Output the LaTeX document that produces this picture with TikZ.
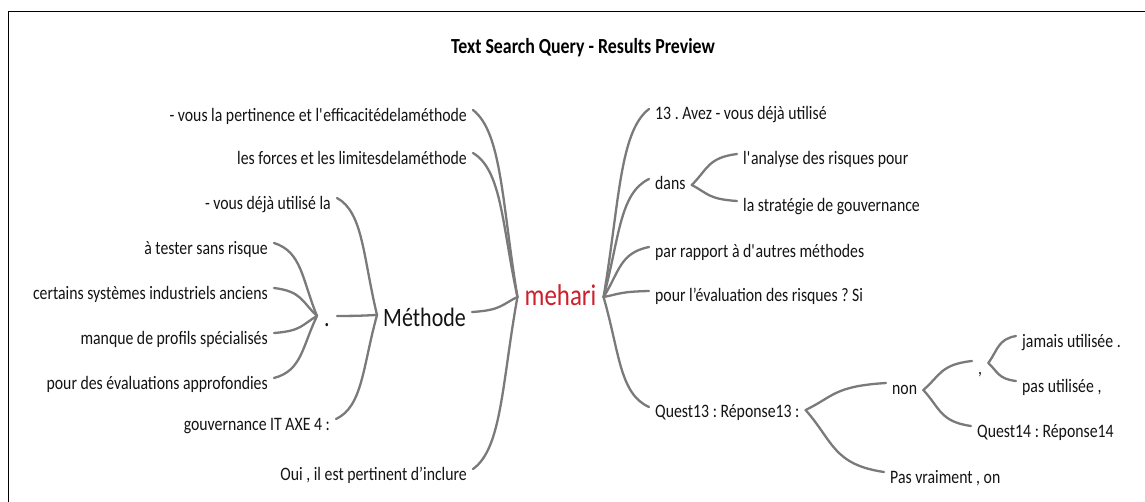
\documentclass[tikz,border=0pt]{standalone}
\usepackage{fontspec}
\setmainfont{Carlito}[FakeStretch=0.83]
\usetikzlibrary{calc}
\frenchspacing

\definecolor{inkgray}{RGB}{20,20,20}
\definecolor{branchgray}{RGB}{122,122,122}
\definecolor{rootred}{RGB}{205,32,44}

\tikzset{
  lbl/.style={font=\fontsize{19}{22}\selectfont, text=inkgray,
    inner xsep=6pt, inner ysep=0pt, text height=13.5pt, text depth=4.5pt},
  big/.style={font=\fontsize{26.5}{30}\selectfont, text=inkgray,
    inner xsep=6pt, inner ysep=0pt, text height=19pt, text depth=6.5pt},
  rootnode/.style={font=\fontsize{30}{34}\selectfont, text=rootred,
    inner xsep=7pt, inner ysep=0pt, text height=22pt, text depth=7.5pt},
  branch/.style={draw=branchgray, line width=2.3pt, line cap=round},
  frameline/.style={draw=black, line width=1.6pt}
}

% curved mind-map branch from a parent point (#1) to a child end (#2)
\newcommand\branch[2]{%
  \draw[branch] let \p1=(#1), \p2=(#2) in
    (\p1) .. controls (\x1+0.35*\x2-0.35*\x1, \y1+0.5*\y2-0.5*\y1)
             and (\x2+0.65*\x1-0.65*\x2, \y2+0.12*\y1-0.12*\y2) .. (\p2);}
\newcommand\sq{\textquotesingle}

\begin{document}
\begin{tikzpicture}[x=1pt,y=-1pt]
\useasboundingbox (0,0) rectangle (1145,502);
\fill[white] (0,0) rectangle (1145,502);

% frame on the top and left edges
\draw[frameline] (8.5,502) -- (8.5,11.5) -- (1145,11.5);

% title
\node[font=\bfseries\fontsize{21.5}{24}\selectfont, text=black] (title) at (583,48)
  {Text Search Query - Results Preview};

% root
\node[rootnode] (root) at (560.5,298) {mehari};

% left side of the root
\node[lbl, anchor=east] (l1) at (473,117) {- vous la pertinence et l\sq efficacitédelaméthode};
\node[lbl, anchor=east] (l2) at (473,160) {les forces et les limitesdelaméthode};
\node[big, anchor=west] (meth) at (377,320) {Méthode};
\node[lbl, anchor=east] (l4) at (473,476) {Oui , il est pertinent d’inclure};

\node[lbl, anchor=east] (m1) at (337,205) {- vous déjà utilisé la};
\node[big, inner xsep=7pt] (dot) at (327,320) {.};
\node[lbl, anchor=east] (m3) at (336,426) {gouvernance IT AXE 4 :};

\node[lbl, anchor=east] (d1) at (274,250) {à tester sans risque};
\node[lbl, anchor=east] (d2) at (274,295) {certains systèmes industriels anciens};
\node[lbl, anchor=east] (d3) at (274,340) {manque de profils spécialisés};
\node[lbl, anchor=east] (d4) at (274,385) {pour des évaluations approfondies};

% right side of the root
\node[lbl, anchor=west] (r1) at (649,115) {13 . Avez - vous déjà utilisé};
\node[lbl, anchor=west] (dans) at (649,185) {dans};
\node[lbl, anchor=west] (r3) at (649,253) {par rapport à d\sq autres méthodes};
\node[lbl, anchor=west] (r4) at (649,297) {pour l’évaluation des risques ? Si};
\node[lbl, anchor=west] (q13) at (649,413) {Quest13 : Réponse13 :};

\node[lbl, anchor=west] (an1) at (737,160) {l\sq analyse des risques pour};
\node[lbl, anchor=west] (an2) at (737,207) {la stratégie de gouvernance};

\node[lbl, anchor=west] (non) at (886,390) {non};
\node[lbl, anchor=west] (pasv) at (884,479) {Pas vraiment , on};

\node[lbl, anchor=west] (comma) at (972,370) {,};
\node[lbl, anchor=west] (q14) at (971,433) {Quest14 : Réponse14};

\node[lbl, anchor=west] (jam) at (1016,343) {jamais utilisée .};
\node[lbl, anchor=west] (pasu) at (1016,388) {pas utilisée ,};

% branches of the root
\branch{[yshift=1pt]root.west}{[yshift=7pt]l1.east}
\branch{[yshift=1pt]root.west}{[yshift=7pt]l2.east}
\branch{[yshift=1pt]root.west}{[yshift=8pt]meth.east}
\branch{[yshift=1pt]root.west}{[yshift=7pt]l4.east}
\branch{[yshift=1pt]root.east}{[yshift=6pt]r1.west}
\branch{[yshift=1pt]root.east}{[yshift=6pt]dans.west}
\branch{[yshift=1pt]root.east}{[yshift=6pt]r3.west}
\branch{[yshift=1pt]root.east}{[yshift=6pt]r4.west}
\branch{[yshift=1pt]root.east}{[yshift=6pt]q13.west}

% branches of Méthode and of the dot
\branch{[yshift=5pt]meth.west}{[yshift=7pt]m1.east}
\branch{[yshift=5pt]meth.west}{[yshift=4pt]dot.east}
\branch{[yshift=5pt]meth.west}{[yshift=7pt]m3.east}
\branch{[yshift=4pt]dot.west}{[yshift=7pt]d1.east}
\branch{[yshift=4pt]dot.west}{[yshift=7pt]d2.east}
\branch{[yshift=4pt]dot.west}{[yshift=7pt]d3.east}
\branch{[yshift=4pt]dot.west}{[yshift=7pt]d4.east}

% branches on the right
\branch{dans.east}{[yshift=6pt]an1.west}
\branch{dans.east}{[yshift=6pt]an2.west}
\branch{[yshift=3pt]q13.east}{[yshift=7pt]non.west}
\branch{[yshift=3pt]q13.east}{[yshift=7pt]pasv.west}
\branch{non.east}{[yshift=9pt]comma.west}
\branch{non.east}{[yshift=7pt]q14.west}
\branch{[yshift=7pt]comma.east}{[yshift=7pt]jam.west}
\branch{[yshift=7pt]comma.east}{[yshift=7pt]pasu.west}
\end{tikzpicture}
\end{document}
